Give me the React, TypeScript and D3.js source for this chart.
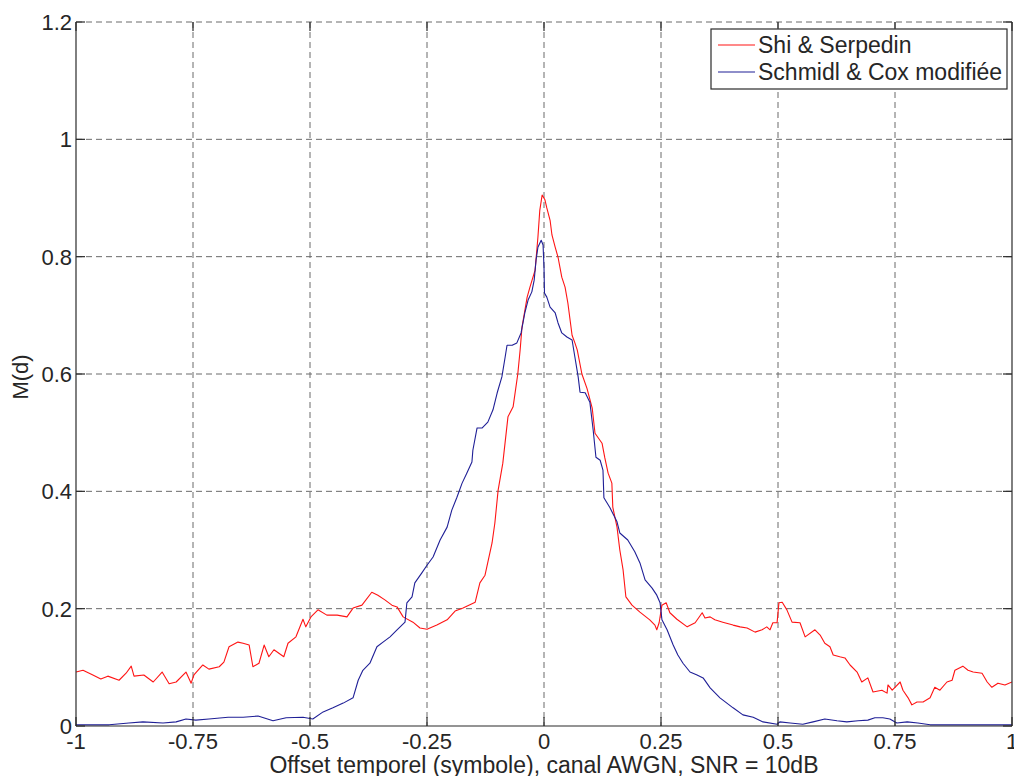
import React from "react";
import * as d3 from "d3";

const xTicks = [-1, -0.75, -0.5, -0.25, 0, 0.25, 0.5, 0.75, 1];
const xTickLabels = ["-1", "-0.75", "-0.5", "-0.25", "0", "0.25", "0.5", "0.75", "1"];
const yTicks = [0, 0.2, 0.4, 0.6, 0.8, 1, 1.2];
const yTickLabels = ["0", "0.2", "0.4", "0.6", "0.8", "1", "1.2"];
const seriesNames = ["Shi & Serpedin", "Schmidl & Cox modifiée"];
const xLabel = "Offset temporel (symbole), canal AWGN, SNR = 10dB";
const yLabel = "M(d)";

const shiSerpedin: [number, number][] = [
  [-1.0, 0.092], [-0.985, 0.095], [-0.964, 0.087], [-0.947, 0.08], [-0.932, 0.085],
  [-0.908, 0.078], [-0.893, 0.09], [-0.882, 0.102], [-0.876, 0.085], [-0.855, 0.087],
  [-0.835, 0.075], [-0.816, 0.092], [-0.801, 0.072], [-0.786, 0.075], [-0.765, 0.092],
  [-0.754, 0.073], [-0.748, 0.087], [-0.729, 0.104], [-0.716, 0.097], [-0.694, 0.101],
  [-0.684, 0.109], [-0.673, 0.135], [-0.654, 0.143], [-0.643, 0.141], [-0.63, 0.138],
  [-0.622, 0.101], [-0.609, 0.107], [-0.598, 0.138], [-0.588, 0.118], [-0.577, 0.13],
  [-0.556, 0.118], [-0.547, 0.141], [-0.53, 0.152], [-0.515, 0.182], [-0.509, 0.169],
  [-0.498, 0.186], [-0.483, 0.198], [-0.464, 0.189], [-0.442, 0.189], [-0.421, 0.186],
  [-0.408, 0.201], [-0.389, 0.206], [-0.368, 0.228], [-0.355, 0.223], [-0.34, 0.215],
  [-0.325, 0.206], [-0.314, 0.203], [-0.301, 0.186], [-0.28, 0.177], [-0.265, 0.167],
  [-0.25, 0.165], [-0.229, 0.172], [-0.207, 0.181], [-0.19, 0.196], [-0.173, 0.201],
  [-0.147, 0.211], [-0.137, 0.244], [-0.126, 0.257], [-0.111, 0.312], [-0.105, 0.346],
  [-0.098, 0.402], [-0.088, 0.448], [-0.077, 0.527], [-0.066, 0.544], [-0.056, 0.6],
  [-0.051, 0.641], [-0.047, 0.68], [-0.036, 0.731], [-0.03, 0.748], [-0.019, 0.777],
  [-0.013, 0.833], [-0.009, 0.879], [-0.004, 0.905], [0.002, 0.897], [0.006, 0.883],
  [0.013, 0.862], [0.017, 0.837], [0.024, 0.816], [0.03, 0.799], [0.038, 0.765],
  [0.045, 0.748], [0.051, 0.721], [0.06, 0.666], [0.066, 0.653], [0.071, 0.641],
  [0.081, 0.6], [0.092, 0.575], [0.103, 0.542], [0.109, 0.499], [0.124, 0.482],
  [0.13, 0.457], [0.137, 0.431], [0.145, 0.414], [0.147, 0.373], [0.156, 0.339],
  [0.162, 0.3], [0.169, 0.266], [0.175, 0.22], [0.188, 0.206], [0.205, 0.194],
  [0.226, 0.181], [0.237, 0.172], [0.241, 0.164], [0.246, 0.176], [0.252, 0.206],
  [0.261, 0.21], [0.269, 0.193], [0.284, 0.182], [0.306, 0.169], [0.323, 0.176],
  [0.338, 0.193], [0.344, 0.184], [0.355, 0.186], [0.365, 0.181], [0.382, 0.177],
  [0.404, 0.172], [0.419, 0.169], [0.434, 0.167], [0.451, 0.16], [0.466, 0.164],
  [0.476, 0.169], [0.483, 0.164], [0.489, 0.176], [0.498, 0.176], [0.502, 0.21],
  [0.509, 0.211], [0.519, 0.198], [0.53, 0.177], [0.547, 0.176], [0.558, 0.152],
  [0.579, 0.164], [0.59, 0.155], [0.6, 0.141], [0.611, 0.135], [0.618, 0.121],
  [0.632, 0.118], [0.643, 0.116], [0.654, 0.104], [0.669, 0.092], [0.679, 0.075],
  [0.692, 0.082], [0.703, 0.058], [0.722, 0.061], [0.733, 0.056], [0.735, 0.07],
  [0.744, 0.061], [0.75, 0.066], [0.761, 0.075], [0.767, 0.061], [0.778, 0.048],
  [0.786, 0.036], [0.797, 0.041], [0.81, 0.041], [0.825, 0.048], [0.835, 0.066],
  [0.846, 0.061], [0.861, 0.075], [0.872, 0.078], [0.878, 0.095], [0.895, 0.102],
  [0.906, 0.095], [0.917, 0.092], [0.936, 0.09], [0.947, 0.075], [0.957, 0.066],
  [0.97, 0.073], [0.985, 0.07], [1.0, 0.075],
];

const schmidlCox: [number, number][] = [
  [-1.0, 0.002], [-0.929, 0.002], [-0.887, 0.005], [-0.857, 0.007], [-0.814, 0.005],
  [-0.786, 0.007], [-0.765, 0.012], [-0.744, 0.01], [-0.716, 0.012], [-0.675, 0.015],
  [-0.643, 0.015], [-0.611, 0.017], [-0.579, 0.009], [-0.551, 0.014], [-0.515, 0.015],
  [-0.494, 0.012], [-0.472, 0.024], [-0.451, 0.031], [-0.429, 0.039], [-0.408, 0.048],
  [-0.397, 0.078], [-0.387, 0.095], [-0.372, 0.107], [-0.357, 0.135], [-0.344, 0.143],
  [-0.329, 0.152], [-0.314, 0.164], [-0.297, 0.177], [-0.293, 0.21], [-0.282, 0.22],
  [-0.276, 0.244], [-0.261, 0.261], [-0.25, 0.274], [-0.237, 0.288], [-0.222, 0.317],
  [-0.207, 0.339], [-0.197, 0.368], [-0.186, 0.39], [-0.175, 0.414], [-0.165, 0.431],
  [-0.154, 0.45], [-0.152, 0.47], [-0.143, 0.508], [-0.132, 0.508], [-0.12, 0.518],
  [-0.109, 0.539], [-0.1, 0.568], [-0.09, 0.595], [-0.083, 0.629], [-0.079, 0.649],
  [-0.068, 0.649], [-0.058, 0.653], [-0.049, 0.67], [-0.041, 0.704], [-0.034, 0.726],
  [-0.026, 0.74], [-0.021, 0.76], [-0.017, 0.794], [-0.013, 0.816], [-0.006, 0.828],
  [-0.002, 0.82], [0.0, 0.782], [0.001, 0.738], [0.006, 0.731], [0.013, 0.714],
  [0.024, 0.704], [0.03, 0.687], [0.038, 0.67], [0.049, 0.663], [0.06, 0.658],
  [0.066, 0.629], [0.073, 0.595], [0.077, 0.569], [0.088, 0.568], [0.098, 0.552],
  [0.105, 0.505], [0.111, 0.458], [0.12, 0.453], [0.126, 0.436], [0.128, 0.389],
  [0.141, 0.372], [0.156, 0.348], [0.162, 0.329], [0.179, 0.317], [0.194, 0.297],
  [0.205, 0.278], [0.216, 0.249], [0.231, 0.235], [0.241, 0.223], [0.248, 0.21],
  [0.252, 0.181], [0.263, 0.164], [0.276, 0.138], [0.286, 0.121], [0.297, 0.107],
  [0.312, 0.092], [0.327, 0.087], [0.34, 0.082], [0.355, 0.065], [0.376, 0.048],
  [0.404, 0.031], [0.425, 0.019], [0.447, 0.015], [0.468, 0.007], [0.498, 0.003],
  [0.504, 0.007], [0.526, 0.005], [0.553, 0.003], [0.575, 0.007], [0.6, 0.012],
  [0.626, 0.009], [0.647, 0.007], [0.671, 0.009], [0.692, 0.01], [0.707, 0.014],
  [0.724, 0.014], [0.739, 0.012], [0.754, 0.005], [0.776, 0.007], [0.799, 0.005],
  [0.825, 0.002], [1.0, 0.002],
];

const W = 1014;
const H = 776;
const M = { left: 76, right: 1012, top: 22, bottom: 726 };
const FONT = "'Liberation Sans', Arial, Helvetica, sans-serif";
const TEXT = "#262626";
const RED = "#ff1414";
const BLUE = "#1f1f96";

export default function App() {
  const x = d3.scaleLinear().domain([-1, 1]).range([M.left, M.right]);
  const y = d3.scaleLinear().domain([0, 1.2]).range([M.bottom, M.top]);
  const line = d3
    .line<[number, number]>()
    .x((d) => x(d[0]))
    .y((d) => y(d[1]));
  const tick = 9;
  const legend = { x: 711, y: 29, w: 296, h: 60 };

  return (
    <svg
      width={W}
      height={H}
      style={{ position: "absolute", left: 0, top: 0, background: "#fff" }}
    >
      <defs>
        <clipPath id="plotclip">
          <rect x={M.left} y={M.top} width={M.right - M.left} height={M.bottom - M.top} />
        </clipPath>
      </defs>
      <rect x={0} y={0} width={W} height={H} fill="#fff" />
      {/* grid */}
      <g stroke="#6a6a6a" strokeWidth={1} strokeDasharray="6,4" fill="none">
        {xTicks.slice(1, -1).map((t) => (
          <line key={"gx" + t} x1={x(t)} x2={x(t)} y1={M.top} y2={M.bottom} />
        ))}
        {yTicks.slice(1, -1).map((t) => (
          <line key={"gy" + t} x1={M.left} x2={M.right} y1={y(t)} y2={y(t)} />
        ))}
        <line x1={M.left} x2={M.right} y1={M.top} y2={M.top} />
      </g>
      {/* series */}
      <g clipPath="url(#plotclip)" fill="none" strokeWidth={1.1} strokeLinejoin="round">
        <path d={line(shiSerpedin) || ""} stroke={RED} />
        <path d={line(schmidlCox) || ""} stroke={BLUE} />
      </g>
      {/* frame & ticks */}
      <g stroke="#2a2a2a" strokeWidth={1.2} fill="none">
        <line x1={M.left} x2={M.left} y1={M.top} y2={M.bottom} />
        <line x1={M.left} x2={M.right} y1={M.bottom} y2={M.bottom} />
        <line x1={M.right} x2={M.right} y1={M.top} y2={M.bottom} />
        {xTicks.map((t) => (
          <g key={"tx" + t}>
            <line x1={x(t)} x2={x(t)} y1={M.bottom} y2={M.bottom - tick} />
            <line x1={x(t)} x2={x(t)} y1={M.top} y2={M.top + tick} />
          </g>
        ))}
        {yTicks.map((t) => (
          <g key={"ty" + t}>
            <line x1={M.left} x2={M.left + tick} y1={y(t)} y2={y(t)} />
            <line x1={M.right} x2={M.right - tick} y1={y(t)} y2={y(t)} />
          </g>
        ))}
      </g>
      {/* tick labels */}
      <g fontFamily={FONT} fill={TEXT} fontSize={22}>
        {xTicks.map((t, i) => (
          <text key={"lx" + t} x={x(t)} y={749} textAnchor="middle">
            {xTickLabels[i]}
          </text>
        ))}
        {yTicks.map((t, i) => (
          <text key={"ly" + t} x={72} y={y(t)} dy="0.36em" textAnchor="end">
            {yTickLabels[i]}
          </text>
        ))}
        <text x={(M.left + M.right) / 2} y={773} textAnchor="middle" fontSize={23}>
          {xLabel}
        </text>
        <text transform={`translate(28,377) rotate(-90)`} textAnchor="middle">
          {yLabel}
        </text>
      </g>
      {/* legend */}
      <g>
        <rect
          x={legend.x}
          y={legend.y}
          width={legend.w}
          height={legend.h}
          fill="#fff"
          stroke="#2a2a2a"
          strokeWidth={1.2}
        />
        {seriesNames.map((name, i) => {
          const ly = legend.y + 16 + i * 27;
          return (
            <g key={name}>
              <line x1={718} x2={755} y1={ly} y2={ly} stroke={i === 0 ? RED : BLUE} strokeWidth={1.1} />
              <text x={758} y={ly} dy="0.36em" fontFamily={FONT} fontSize={23} fill={TEXT}>
                {name}
              </text>
            </g>
          );
        })}
      </g>
    </svg>
  );
}
